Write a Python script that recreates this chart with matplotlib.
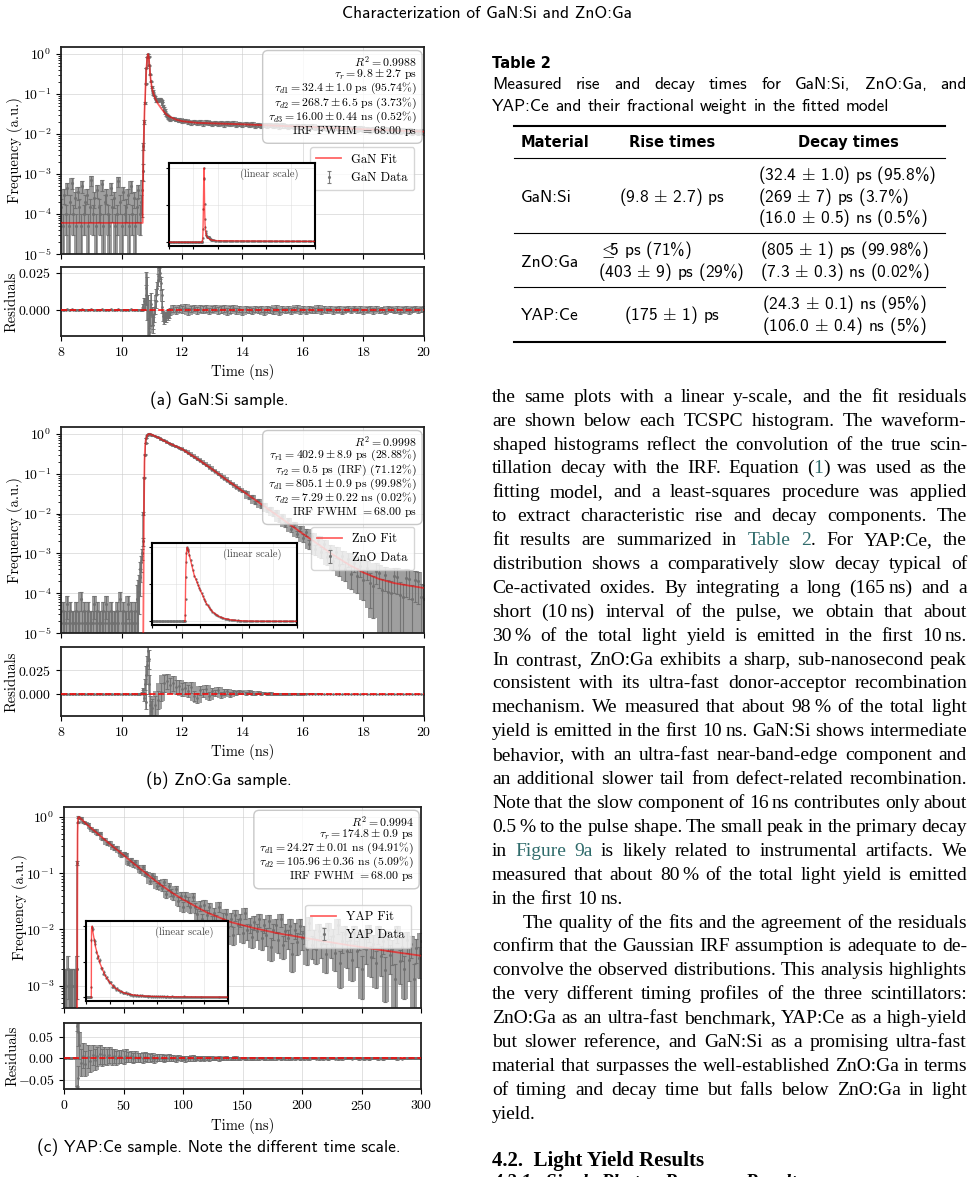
import numpy as np
import matplotlib
matplotlib.use('Agg')
import matplotlib.pyplot as plt
from matplotlib.lines import Line2D
from matplotlib.font_manager import FontProperties
from matplotlib.ticker import FuncFormatter

plt.rcParams['font.family'] = 'cmr10'
plt.rcParams['mathtext.fontset'] = 'cm'
plt.rcParams['axes.formatter.use_mathtext'] = True

W, H = 975, 1177

# ---------------- GaN:Si ----------------
GAN_N = 4000          # effective counts for the error bars of the decay
GAN_BG_UNIT = 5e-5    # one count in the background region
gan_bg_counts = np.array([3, 1, 6, 2, 9, 1, 4, 12, 2, 5, 1, 7, 3, 1, 10, 2, 4, 6, 1, 3,
                          14, 2, 5, 1, 8, 3, 2, 11, 1, 4, 6, 2, 1, 9, 3, 5, 1, 2, 13, 4,
                          1, 7, 2, 3, 6, 1, 10, 2, 5, 1, 3, 8, 2, 4])
gan_pk = [4e-4, 1.2e-3, 5e-3, 0.02, 0.06, 0.18, 0.45, 0.85, 1.0, 0.86,
          0.52, 0.31, 0.21, 0.15, 0.12, 0.10, 0.092, 0.085, 0.076, 0.069,
          0.066, 0.068, 0.072, 0.075, 0.076, 0.073, 0.066, 0.058, 0.05, 0.043,
          0.038, 0.034, 0.031, 0.029, 0.028, 0.026, 0.025, 0.024]
gan_tail = np.array([24.5, 23.0, 22.6, 21.0, 21.8, 20.2, 19.5, 20.6, 19.1, 19.8,
                     18.4, 19.6, 18.9, 18.2, 19.3, 18.0, 18.8, 17.5, 18.6, 17.9,
                     18.5, 17.2, 18.1, 17.0, 17.9, 16.8, 17.6, 16.2, 17.3, 15.9,
                     16.9, 16.4, 17.0, 15.8, 16.7, 15.5, 16.4, 15.9, 15.0, 16.2,
                     15.3, 15.9, 14.8, 15.6, 15.1, 14.6, 15.5, 14.4, 15.2, 14.5,
                     14.9, 13.9, 14.8, 14.0, 14.6, 13.6, 14.3, 13.8, 14.1, 13.2,
                     13.9, 13.0, 13.7, 12.9, 13.5, 12.6, 13.3, 12.4, 13.0, 12.3,
                     12.9, 12.1, 12.7, 12.0, 12.5, 11.7, 12.4, 11.6, 12.1, 11.3,
                     11.9, 11.2, 11.7, 11.1]) * 1e-3
gan_fit_t = [8.0, 10.70, 10.71, 10.73, 10.76, 10.79, 10.82, 10.85, 10.875, 10.90,
             10.93, 10.96, 11.0, 11.05, 11.1, 11.2, 11.3, 11.4, 11.5, 11.6,
             11.8, 12.0, 12.5, 13.0, 14.0, 15.0, 16.0, 17.0, 18.0, 19.0, 20.0]
gan_fit_y = [6e-5, 6e-5, 6e-4, 5e-3, 0.035, 0.13, 0.4, 0.78, 1.0, 0.85,
             0.45, 0.25, 0.15, 0.105, 0.082, 0.058, 0.045, 0.036, 0.030, 0.027,
             0.023, 0.021, 0.019, 0.0185, 0.0175, 0.0163, 0.0152, 0.0142, 0.0132, 0.0123, 0.0115]
gan_res_pk = [0.000, 0.001, 0.003, 0.006, 0.004, 0.010, 0.015, 0.008, -0.006, -0.015,
              -0.012, -0.002, 0.004, -0.004, -0.010, -0.008, -0.003, 0.002, 0.006, 0.010,
              0.015, 0.020, 0.024, 0.027, 0.025, 0.018, 0.010, 0.002, -0.004, -0.006,
              -0.005, -0.004, -0.005, -0.003, -0.004, -0.002, -0.003, -0.001]
gan_res_tail = [0.0010, -0.0005, 0.0012, 0.0004, 0.0015, -0.0008, 0.0006, 0.0013, -0.0002, 0.0009,
                0.0003, 0.0011, -0.0006, 0.0007, 0.0014, -0.0003, 0.0005, 0.0010, -0.0009, 0.0004,
                0.0012, -0.0004, 0.0008, -0.0011, 0.0006, 0.0002, -0.0007, 0.0010, -0.0002, 0.0005,
                -0.0012, 0.0007, 0.0001, -0.0005, 0.0011, -0.0015, 0.0004, -0.0003, 0.0009, -0.0008,
                0.0003, 0.0012, -0.0006, 0.0005, -0.0010, 0.0008, 0.0001, -0.0004, 0.0013, -0.0007,
                0.0006, -0.0002, 0.0010, -0.0009, 0.0004, 0.0007, -0.0011, 0.0002, 0.0009, -0.0005,
                0.0011, -0.0003, 0.0006, -0.0008, 0.0003, 0.0010, -0.0006, 0.0008, -0.0001, 0.0005,
                -0.0009, 0.0012, 0.0002, -0.0004, 0.0007, -0.0010, 0.0004, 0.0009, -0.0006, 0.0003,
                0.0011, -0.0002, 0.0006, 0.0008]
gan_stats = [r'$R^2 = 0.9988$',
             r'$\tau_r = 9.8 \pm 2.7$ ps',
             r'$\tau_{d1} = 32.4 \pm 1.0$ ps (95.74%)',
             r'$\tau_{d2} = 268.7 \pm 6.5$ ps (3.73%)',
             r'$\tau_{d3} = 16.00 \pm 0.44$ ns (0.52%)',
             r'IRF FWHM $= 68.00$ ps']

# ---------------- ZnO:Ga ----------------
ZNO_N = 9400
ZNO_BG_UNIT = 1.8e-5
zno_bg_counts = np.array([1, 2, 1, 1, 3, 1, 2, 1, 1, 1, 2, 1, 1, 4, 1, 2, 1, 1, 2, 1,
                          1, 1, 3, 1, 2, 1, 1, 1, 2, 1, 3, 1, 1, 2, 1, 1, 1, 2, 1, 4,
                          1, 2, 1, 1, 3, 1, 2, 1, 1, 2, 1])
zno_pk = [7e-5, 1.1e-4, 1.6e-4, 2.5e-4, 4e-4, 6e-4, 1e-3, 2e-3, 0.01, 0.08,
          0.3, 0.6, 0.8, 0.92, 0.98, 1.0, 0.995, 0.985, 0.97, 0.955]
zno_tail = [0.90, 0.83, 0.76, 0.69, 0.62, 0.575, 0.53, 0.49, 0.455, 0.42,
            0.38, 0.342, 0.30, 0.272, 0.24, 0.216, 0.19, 0.171, 0.149, 0.131,
            0.115, 0.101, 0.090, 0.079, 0.068, 0.060, 0.054, 0.047, 0.041, 0.037,
            0.035, 0.025, 0.027, 0.019, 0.022, 0.0155, 0.0172, 0.0121, 0.0135, 0.0097,
            0.0112, 0.0069, 0.0088, 0.0053, 0.0068, 0.0041, 0.0054, 0.0031, 0.0043, 0.0025,
            0.0034, 0.0017, 0.0027, 0.0013, 0.0022, 0.0011, 0.0017, 8.0e-4, 0.0013, 6.5e-4,
            1.1e-3, 5.0e-4, 8.6e-4, 4.1e-4, 7.2e-4, 3.1e-4, 5.9e-4, 2.7e-4, 4.9e-4, 2.2e-4,
            4.3e-4, 1.8e-4, 1.5e-4, 3.7e-4, 3.2e-4, 1.2e-4, 2.9e-4, 1.1e-4, 1.0e-4, 2.7e-4,
            2.6e-4, 9e-5, 8e-5, 2.4e-4, 2.3e-4, 7e-5, 2.1e-4, 2.0e-4, 8e-5, 7e-5]
zno_fit_t = [10.70, 10.72, 10.74, 10.76, 10.78, 10.80, 10.85, 10.90, 10.95, 11.0,
             11.2, 11.5, 12.0, 12.5, 13.0, 13.5, 14.0, 14.5, 15.0, 15.5,
             16.0, 16.5, 17.0, 17.5, 18.0, 18.5, 19.0, 19.5, 20.0]
zno_fit_y = [1e-6, 1e-5, 0.01, 0.2, 0.5, 0.7, 0.93, 1.0, 0.99, 0.96,
             0.82, 0.62, 0.42, 0.24, 0.13, 0.068, 0.037, 0.02, 0.0108, 0.0058,
             0.0031, 0.0017, 9.2e-4, 5.3e-4, 3.3e-4, 2.3e-4, 1.8e-4, 1.55e-4, 1.35e-4]
zno_res_pk = [0.0, 0.0, 0.0001, 0.0002, 0.0004, 0.0006, 0.001, 0.002, 0.005, -0.004,
              0.010, -0.008, 0.020, 0.030, 0.045, 0.036, 0.010, -0.012, -0.018, -0.015]
zno_res_tail = [-0.012, -0.006, 0.002, 0.011, 0.013, 0.009, 0.011, 0.007, 0.008, 0.005,
                0.006, 0.003, 0.007, -0.002, -0.004, 0.004, 0.001, 0.005, -0.002, 0.003,
                0.001, 0.004, -0.001, 0.002, 0.003, -0.001, 0.002, 0.001, 0.0025, 0.0015,
                0.0005, 0.002, 0.001, 0.0, 0.0012, 0.0004, 0.0008, -0.0002, 0.0006, 0.0003,
                0.0004, -0.0001, 0.0003, 0.0001, 0.0002, -0.0001, 0.0002, 0.0, 0.0001, -0.0001,
                0.0001, 0.0, 0.0001, -0.0001, 0.0001, 0.0, 0.0, 0.0001, -0.0001, 0.0,
                0.0001, -0.0001, 0.0001, 0.0, 0.0, 0.0001, -0.0001, 0.0001, -0.0001, 0.0,
                0.0001, -0.0001, 0.0, 0.0001, -0.0001, 0.0, 0.0001, -0.0001, 0.0, 0.0001,
                -0.0001, 0.0001, 0.0, -0.0001, 0.0001, 0.0, -0.0001, 0.0001, 0.0, 0.0]
zno_stats = [r'$R^2 = 0.9998$',
             r'$\tau_{r1} = 402.9 \pm 8.9$ ps (28.88%)',
             r'$\tau_{r2} = 0.5$ ps (IRF) (71.12%)',
             r'$\tau_{d1} = 805.1 \pm 0.9$ ps (99.98%)',
             r'$\tau_{d2} = 7.29 \pm 0.22$ ns (0.02%)',
             r'IRF FWHM $= 68.00$ ps']

# ---------------- YAP:Ce ----------------
YAP_N = 1000
YAP_BG_UNIT = 1e-3
yap_bg_counts = np.array([1, 1, 1, 2, 1, 1, 1, 1, 1, 1, 1])
yap_t_pk = [11.0, 11.25, 11.5, 12.0, 13.0]
yap_pk = [0.002, 0.15, 0.8, 0.99, 0.97]
yap_tail = [0.964, 0.811, 0.787, 0.753, 0.637, 0.558, 0.575, 0.506, 0.524, 0.406,
            0.407, 0.333, 0.359, 0.312, 0.271, 0.29, 0.239, 0.209, 0.219, 0.215,
            0.149, 0.172, 0.143, 0.159, 0.128, 0.109, 0.131, 0.098, 0.097, 0.0726,
            0.0925, 0.0816, 0.059, 0.0674, 0.0551, 0.0694, 0.0422, 0.0581, 0.046, 0.0389,
            0.0519, 0.0322, 0.0399, 0.0251, 0.0392, 0.0316, 0.0246, 0.0378, 0.0246, 0.0191,
            0.0264, 0.0151, 0.0275, 0.018, 0.0245, 0.0134, 0.0193, 0.0142, 0.0252, 0.0105,
            0.0156, 0.0191, 0.011, 0.0155, 0.0081, 0.0182, 0.0118, 0.0151, 0.0088, 0.0199,
            0.0096, 0.0122, 0.0074, 0.0134, 0.0095, 0.0151, 0.0069, 0.012, 0.0079, 0.0143,
            0.0049, 0.0096, 0.012, 0.0064, 0.015, 0.0053, 0.0094, 0.0071, 0.0116, 0.0037,
            0.0098, 0.006, 0.0117, 0.0069, 0.0085, 0.0044, 0.0132, 0.0053, 0.0071, 0.0045,
            0.0092, 0.0054, 0.0083, 0.0036, 0.0099, 0.0054, 0.0076, 0.0038, 0.0118, 0.0025,
            0.0063, 0.0084, 0.0041, 0.0065, 0.0029, 0.0085, 0.0042, 0.007, 0.002, 0.0071,
            0.0045, 0.0089, 0.0032, 0.0055, 0.0025, 0.0084, 0.0033, 0.0061, 0.0019, 0.0068,
            0.0035, 0.0044, 0.0013, 0.0087, 0.0027, 0.0049, 0.002, 0.0064, 0.0029, 0.0054,
            0.0013, 0.0047, 0.0031, 0.0062]
yap_fit_t = [11.0, 11.2, 11.4, 11.7, 12.5, 20, 30, 40, 50, 60, 70, 80, 90, 100,
             120, 140, 160, 180, 200, 220, 240, 260, 280, 300]
yap_fit_y = [1e-4, 0.03, 0.5, 0.95, 1.0, 0.71, 0.47, 0.31, 0.21, 0.14, 0.095, 0.065, 0.046, 0.034,
             0.020, 0.0135, 0.0105, 0.0085, 0.0072, 0.0061, 0.0052, 0.0045, 0.0039, 0.0034]
yap_res_bg = [0.001, 0.0005, 0.001, 0.002, 0.0008, 0.001, 0.0005, 0.001, 0.0012, 0.0008, 0.001]
yap_res_pk = [-0.065, 0.075, -0.045, 0.06, 0.03]
yap_res_tail = [-0.010, 0.006, -0.012, 0.004, -0.006, 0.008, -0.003, 0.005, 0.009, 0.002,
                0.007, 0.004, 0.008, 0.003, 0.006, 0.001, 0.005, 0.004, 0.002, 0.006,
                0.003, 0.005, 0.001, 0.004, 0.002, 0.003, 0.000, 0.004, 0.002, 0.001,
                0.003, -0.001, 0.002, 0.001, 0.002, -0.001, 0.001, 0.002, 0.000, 0.001,
                -0.001, 0.001, 0.000, 0.001, -0.001, 0.0005, 0.0, 0.001, -0.0005, 0.0005,
                0.0, 0.0008, -0.0006, 0.0004, 0.0, 0.0007, -0.0005, 0.0003, -0.0002, 0.0006,
                -0.0004, 0.0002, 0.0005, -0.0006, 0.0001, 0.0004, -0.0003, 0.0, 0.0005, -0.0004,
                0.0002, 0.0004, -0.0005, 0.0001, 0.0003, -0.0002, 0.0005, -0.0004, 0.0, 0.0003,
                -0.0003, 0.0004, -0.0001, 0.0002, -0.0004, 0.0003, 0.0, -0.0002, 0.0004, -0.0003,
                0.0001, 0.0003, -0.0004, 0.0002, 0.0, -0.0003, 0.0004, -0.0001, 0.0002, -0.0004,
                0.0003, 0.0, -0.0002, 0.0004, -0.0003, 0.0001, 0.0002, -0.0004, 0.0003, 0.0,
                -0.0002, 0.0003, -0.0001, 0.0002, -0.0003, 0.0004, 0.0, -0.0002, 0.0003, -0.0001,
                0.0002, -0.0003, 0.0001, 0.0003, -0.0002, 0.0, 0.0002, -0.0003, 0.0001, 0.0002,
                -0.0001, 0.0003, -0.0002, 0.0, 0.0002, -0.0003, 0.0001, 0.0002, -0.0002, 0.0,
                0.0002, -0.0001, 0.0001, 0.0]
yap_stats = [r'$R^2 = 0.9994$',
             r'$\tau_r = 174.8 \pm 0.9$ ps',
             r'$\tau_{d1} = 24.27 \pm 0.01$ ns (94.91%)',
             r'$\tau_{d2} = 105.96 \pm 0.36$ ns (5.09%)',
             r'IRF FWHM $= 68.00$ ps']

# ---------------- table and text ----------------
table_header = ['Material', 'Rise times', 'Decay times']
table_rows = [
    ('GaN:Si', [r'(9.8 $\pm$ 2.7) ps'],
     [r'(32.4 $\pm$ 1.0) ps (95.8%)', r'(269 $\pm$ 7) ps (3.7%)', r'(16.0 $\pm$ 0.5) ns (0.5%)']),
    ('ZnO:Ga', [r'$\leq\!\!\!$5 ps (71%)', r'(403 $\pm$ 9) ps (29%)'],
     [r'(805 $\pm$ 1) ps (99.98%)', r'(7.3 $\pm$ 0.3) ns (0.02%)']),
    ('YAP:Ce', [r'(175 $\pm$ 1) ps'],
     [r'(24.3 $\pm$ 0.1) ns (95%)', r'(106.0 $\pm$ 0.4) ns (5%)']),
]
para1 = [
    "the same plots with a linear y-scale, and the fit residuals",
    "are shown below each TCSPC histogram. The waveform-",
    "shaped histograms reflect the convolution of the true scin-",
    "tillation decay with the IRF. Equation (|@1|) was used as the",
    "fitting model, and a least-squares procedure was applied",
    "to extract characteristic rise and decay components. The",
    "fit results are summarized in @Table @2|. For YAP:Ce, the",
    "distribution shows a comparatively slow decay typical of",
    "Ce-activated oxides. By integrating a long (165~ns) and a",
    "short (10~ns) interval of the pulse, we obtain that about",
    "30~% of the total light yield is emitted in the first 10~ns.",
    "In contrast, ZnO:Ga exhibits a sharp, sub-nanosecond peak",
    "consistent with its ultra-fast donor-acceptor recombination",
    "mechanism. We measured that about 98~% of the total light",
    "yield is emitted in the first 10~ns. GaN:Si shows intermediate",
    "behavior, with an ultra-fast near-band-edge component and",
    "an additional slower tail from defect-related recombination.",
    "Note that the slow component of 16~ns contributes only about",
    "0.5~% to the pulse shape. The small peak in the primary decay",
    "in @Figure @9a is likely related to instrumental artifacts. We",
    "measured that about 80~% of the total light yield is emitted",
    "in the first 10~ns.",
]
para2 = [
    "The quality of the fits and the agreement of the residuals",
    "confirm that the Gaussian IRF assumption is adequate to de-",
    "convolve the observed distributions. This analysis highlights",
    "the very different timing profiles of the three scintillators:",
    "ZnO:Ga as an ultra-fast benchmark, YAP:Ce as a high-yield",
    "but slower reference, and GaN:Si as a promising ultra-fast",
    "material that surpasses the well-established ZnO:Ga in terms",
    "of timing and decay time but falls below ZnO:Ga in light",
    "yield.",
]

LINK = '#2f6b6b'
DATA_GREY = '#707070'

fig = plt.figure(figsize=(W / 100, H / 100), dpi=100)
renderer = fig.canvas.get_renderer()


def px_box(l, t, r, b):
    return [l / W, 1 - b / H, (r - l) / W, (b - t) / H]


def style(ax):
    for s in ax.spines.values():
        s.set_linewidth(1.3)
        s.set_color('#222222')
    ax.grid(True, color='#cccccc', lw=0.7, alpha=0.6)


def envelope(a, fn):
    # min / max over each bin and its two neighbours: the tightly packed
    # error bars of the original merge into one band at print resolution
    p = np.pad(np.asarray(a, dtype=float), 1, mode='edge')
    return fn(np.stack([p[:-2], p[1:-1], p[2:]]), axis=0)


def dense_band(ax, t, lo, hi):
    ax.fill_between(t, envelope(lo, np.min), envelope(hi, np.max), step='mid',
                    facecolor='#8e8e8e', edgecolor='none', alpha=0.85, zorder=1.8)


def draw_panel(main_px, res_px, ins_px, t, y, err, res, fit_t, fit_y, name, stats,
               xlim, xticks, ylim, rlim, rticks, rfmt, lab_x):
    ax = fig.add_axes(px_box(*main_px))
    ax.set_yscale('log')
    dense_band(ax, t, np.clip(y - err, ylim[0] * 0.5, None), y + err)
    ax.errorbar(t, y, yerr=err, fmt='.', color=DATA_GREY, ms=2.5, elinewidth=0.8,
                capsize=1.5, capthick=0.8, alpha=0.9, label=name + ' Data', zorder=2)
    ax.plot(fit_t, fit_y, color='red', lw=1.3, alpha=0.6, label=name + ' Fit', zorder=3)
    ax.set_xlim(*xlim)
    ax.set_ylim(*ylim)
    ax.set_xticks(xticks)
    ax.tick_params(labelbottom=False, labelsize=10)
    ax.set_ylabel('Frequency (a.u.)', fontsize=10.5)
    ax.yaxis.set_label_coords(lab_x[0], 0.5)
    style(ax)
    ax.text(0.98, 0.965, '\n'.join(stats), transform=ax.transAxes, ha='right', va='top',
            fontsize=8.5, multialignment='right', linespacing=0.9, zorder=6,
            bbox=dict(boxstyle='round,pad=0.45', fc='white', ec='#bbbbbb', alpha=0.8))
    ax.legend(loc='upper right', bbox_to_anchor=(0.99, 0.545), fontsize=9,
              framealpha=0.8, borderpad=0.5)

    rx = fig.add_axes(px_box(*res_px))
    dense_band(rx, t, res - err, res + err)
    rx.errorbar(t, res, yerr=err, fmt='.', color=DATA_GREY, ms=2, elinewidth=0.7,
                capsize=1.2, capthick=0.7, alpha=0.9, zorder=2)
    rx.axhline(0, color='red', ls='--', lw=1.2, alpha=0.9, zorder=4)
    rx.set_xlim(*xlim)
    rx.set_ylim(*rlim)
    rx.set_xticks(xticks)
    rx.set_yticks(rticks)
    rx.yaxis.set_major_formatter(FuncFormatter(lambda v, p: '$%s$' % (rfmt % v)))
    rx.tick_params(labelsize=10)
    rx.set_ylabel('Residuals', fontsize=10.5)
    rx.yaxis.set_label_coords(lab_x[1], 0.5)
    rx.set_xlabel('Time (ns)', fontsize=10.5)
    style(rx)

    ins = fig.add_axes(px_box(*ins_px))
    ins.errorbar(t, y, yerr=err, fmt='.', color=DATA_GREY, ms=1.5, elinewidth=0.6,
                 capsize=0, alpha=0.85, zorder=2)
    ins.plot(fit_t, fit_y, color='red', lw=1.0, alpha=0.65, zorder=3)
    ins.set_xlim(*xlim)
    ins.set_xticks(xticks)
    ins.set_yticks([0, 0.5, 1.0])
    ins.tick_params(labelleft=False, labelbottom=False, length=2)
    ins.grid(True, color='#dddddd', lw=0.6, alpha=0.6)
    for s in ins.spines.values():
        s.set_linewidth(1.5)
        s.set_color('black')
    ins.text(0.69, 0.86, '(linear scale)', transform=ins.transAxes, ha='center',
             va='center', fontsize=7.5, color='#444444')


def with_errors(bg_counts, unit, signal, n):
    y = np.concatenate([bg_counts * unit, signal])
    err = np.concatenate([np.sqrt(bg_counts) * unit, np.sqrt(np.asarray(signal) / n)])
    return y, err


gan_t = np.concatenate([np.linspace(8.0, 10.65, len(gan_bg_counts)),
                        np.linspace(10.675, 11.6, len(gan_pk)),
                        np.linspace(11.7, 20.0, len(gan_tail))])
gan_y, gan_err = with_errors(gan_bg_counts, GAN_BG_UNIT, np.r_[gan_pk, gan_tail], GAN_N)
gan_res = np.concatenate([gan_bg_counts * GAN_BG_UNIT - gan_fit_y[0], gan_res_pk, gan_res_tail])

zno_t = np.concatenate([np.linspace(8.0, 10.5, len(zno_bg_counts)),
                        np.linspace(10.525, 11.0, len(zno_pk)),
                        np.linspace(11.1, 20.0, len(zno_tail))])
zno_y, zno_err = with_errors(zno_bg_counts, ZNO_BG_UNIT, np.r_[zno_pk, zno_tail], ZNO_N)
zno_res = np.concatenate([zno_bg_counts * ZNO_BG_UNIT, zno_res_pk, zno_res_tail])

yap_t = np.concatenate([np.linspace(0, 10, len(yap_bg_counts)), yap_t_pk,
                        np.linspace(14, 300, len(yap_tail))])
yap_y, yap_err = with_errors(yap_bg_counts, YAP_BG_UNIT, np.r_[yap_pk, yap_tail], YAP_N)
yap_res = np.concatenate([yap_res_bg, yap_res_pk, yap_res_tail])

draw_panel((61, 47, 424, 254), (61, 267, 424, 336), (169, 163, 315, 246),
           gan_t, gan_y, gan_err, gan_res, gan_fit_t, gan_fit_y, 'GaN', gan_stats,
           (8, 20), range(8, 21, 2), (1e-5, 1.5), (-0.0175, 0.029), [0, 0.025], '%.3f',
           (-0.105, -0.116))
draw_panel((61, 427, 424, 633), (61, 647, 424, 716), (152, 543, 297, 625),
           zno_t, zno_y, zno_err, zno_res, zno_fit_t, zno_fit_y, 'ZnO', zno_stats,
           (8, 20), range(8, 21, 2), (1e-5, 1.5), (-0.023, 0.049), [0, 0.025], '%.3f',
           (-0.105, -0.116))
draw_panel((64, 807, 421, 1008), (64, 1023, 421, 1089), (86, 921, 228, 1001),
           yap_t, yap_y, yap_err, yap_res, yap_fit_t, yap_fit_y, 'YAP', yap_stats,
           (0, 300), range(0, 301, 50), (4e-4, 1.5), (-0.071, 0.082), [-0.05, 0, 0.05], '%.2f',
           (-0.10, -0.126))

# header and captions
sans = FontProperties(family='cmss10', size=12.5)
fig.text(487 / W, 1 - 18 / H, 'Characterization of GaN:Si and ZnO:Ga', fontproperties=sans,
         ha='center', va='baseline')
for cap, yb in [('(a) GaN:Si sample.', 405), ('(b) ZnO:Ga sample.', 785),
                ('(c) YAP:Ce sample. Note the different time scale.', 1152)]:
    fig.text(219 / W, 1 - yb / H, cap, fontproperties=sans, ha='center', va='baseline')


# justified text
def text_width(s, fp):
    t = fig.text(0, 0, s, fontproperties=fp)
    w = t.get_window_extent(renderer).width
    t.remove()
    return w


def word_parts(w):
    parts = []
    for seg in w.split('|'):
        col = LINK if seg.startswith('@') else 'black'
        for i, s in enumerate(seg.lstrip('@').split('~')):
            parts.append((s, col, i > 0))
    return parts


def set_line(line, x0, x1, base, fp, justify=True, indent=0):
    words = [word_parts(w) for w in line.split()]
    thin = 0.17 * fp.get_size_in_points() * fig.dpi / 72
    widths = [[text_width(s, fp) for s, c, g in wp] for wp in words]
    word_w = [sum(ws) + thin * sum(g for _, _, g in wp) for ws, wp in zip(widths, words)]
    space = text_width('a a', fp) - text_width('aa', fp)
    xs = x0 + indent
    gap = space
    if justify and len(words) > 1:
        gap = (x1 - xs - sum(word_w)) / (len(words) - 1)
    x = xs
    for wp, ws, ww in zip(words, widths, word_w):
        xx = x
        for (s, c, g), w in zip(wp, ws):
            if g:
                xx += thin
            fig.text(xx / W, 1 - base / H, s, fontproperties=fp, color=c,
                     ha='left', va='baseline')
            xx += w
        x += ww + gap


serif = FontProperties(family='Liberation Serif', size=14)
X0, X1 = 492, 967
k = 0
for i, line in enumerate(para1):
    set_line(line, X0, X1, 401.7 + 23.9 * k, serif, justify=i < len(para1) - 1)
    k += 1
for i, line in enumerate(para2):
    set_line(line, X0, X1, 401.7 + 23.9 * k, serif, justify=i < len(para2) - 1,
             indent=31 if i == 0 else 0)
    k += 1

fig.text(X0 / W, 1 - 1166 / H, '4.2.  Light Yield Results',
         fontproperties=FontProperties(family='Liberation Serif', weight='bold', size=15),
         va='baseline')
fig.text(X0 / W, 1 - 1187 / H, '4.2.1.  Single Photon Response Results',
         fontproperties=FontProperties(family='Liberation Serif', weight='bold',
                                       style='italic', size=14), va='baseline')

# table
bold = FontProperties(family='DejaVu Sans', weight='bold', size=10.5)
tsans = FontProperties(family='cmss10', size=12.5)
fig.text(X0 / W, 1 - 68 / H, 'Table 2', fontproperties=bold, va='baseline')
set_line('Measured rise and decay times for GaN:Si, ZnO:Ga, and', X0, X1, 89.3, tsans)
set_line('YAP:Ce and their fractional weight in the fitted model', X0, X1, 111, tsans,
         justify=False)

for yr, lw in [(126, 1.5), (158, 0.8), (233, 0.8), (287, 0.8), (342, 1.5)]:
    fig.add_artist(Line2D([514 / W, 945 / W], [1 - yr / H] * 2, lw=lw, color='black'))

fig.text(521 / W, 1 - 146.7 / H, table_header[0], fontproperties=bold, va='baseline')
fig.text(672 / W, 1 - 146.7 / H, table_header[1], fontproperties=bold, va='baseline', ha='center')
fig.text(848 / W, 1 - 146.7 / H, table_header[2], fontproperties=bold, va='baseline', ha='center')

row_base = [180, 255, 309.3]
row_label = [201.7, 266.7, 320]
rise_left = [None, 598.3, None]
decay_left = [758.3, 760, 761.7]
LS = 21.7
for (mat, rise, decay), b0, bl, rl, dl in zip(table_rows, row_base, row_label, rise_left, decay_left):
    fig.text(521 / W, 1 - bl / H, mat, fontproperties=tsans, va='baseline')
    if rl is None:
        fig.text(672 / W, 1 - bl / H, rise[0], fontproperties=tsans, va='baseline', ha='center')
    else:
        for j, s in enumerate(rise):
            fig.text(rl / W, 1 - (b0 + LS * j) / H, s, fontproperties=tsans, va='baseline')
    for j, s in enumerate(decay):
        fig.text(dl / W, 1 - (b0 + LS * j) / H, s, fontproperties=tsans, va='baseline')

fig.savefig('out.png', dpi=100)
